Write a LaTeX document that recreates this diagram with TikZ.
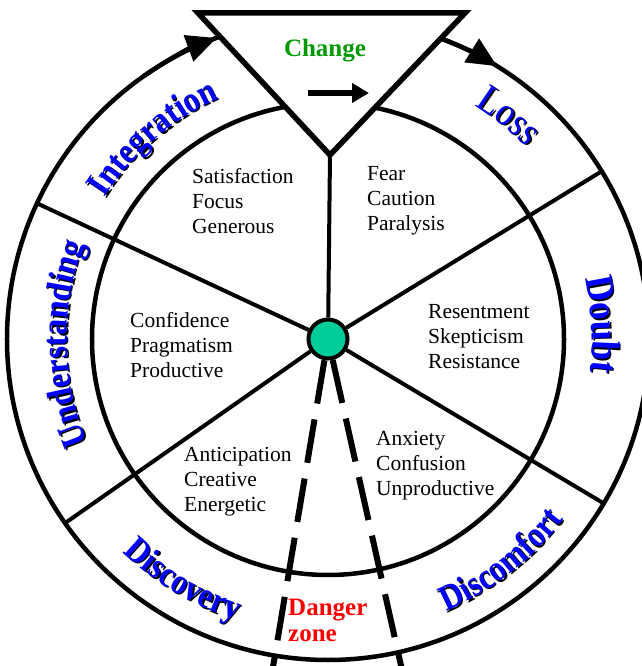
\documentclass[tikz,border=0pt]{standalone}
\usepackage{fontspec}
\setmainfont{Liberation Serif}
\newfontfamily\ringfam{Liberation Serif}[FakeStretch=0.88]
\usetikzlibrary{arrows.meta,decorations.text}
\definecolor{ringblue}{RGB}{0,0,255}
\definecolor{changegreen}{RGB}{0,153,0}
\definecolor{hubgreen}{RGB}{0,204,153}
\definecolor{dangerred}{RGB}{255,0,0}

% #1 start angle, #2 end angle, #3 radius, #4 font, #5 text
\newcommand{\ringlabel}[5]{%
  \path[decorate,decoration={text along path,text align=center,text color=black,
      text={|#4|#5}}] ([shift={(1.5pt,-1.5pt)}]#1:#3pt) arc[start angle=#1,end angle=#2,radius=#3pt];
  \path[decorate,decoration={text along path,text align=center,text color=ringblue,
      text={|#4|#5}}] (#1:#3pt) arc[start angle=#1,end angle=#2,radius=#3pt];
}
\newcommand{\ringfont}{\ringfam\bfseries\fontsize{36}{36}\selectfont}

\begin{document}
\begin{tikzpicture}[x=1pt,y=1pt,
    ring/.style={line width=4.5pt},
    spoke/.style={line width=4pt},
    dangerline/.style={line width=6pt,dash pattern=on 44pt off 16pt},
    mood/.style={inner sep=0pt,align=left,anchor=west,font=\fontsize{21.5}{25}\selectfont},
    bighead/.style={-{Triangle[length=30pt,width=27pt]}}]
  \useasboundingbox (-328,-327) rectangle (313,339);

  % wheel
  \draw[ring] (0,0) circle[radius=321pt];
  \draw[ring] (0,0) circle[radius=236pt];

  \node[circle,draw,line width=4pt,fill=hubgreen,minimum size=39pt,inner sep=0pt] (hub) at (0,0) {};

  \coordinate (top) at (2,184);
  \coordinate (sUL) at (155:321pt);
  \coordinate (sUR) at (31.5:321pt);
  \coordinate (sLR) at (-30.8:321pt);
  \coordinate (sLL) at (215:321pt);
  \coordinate (dL) at (-57,-340);
  \coordinate (dR) at (76,-340);

  \draw[spoke] (hub) -- (top);
  \draw[spoke] (hub) -- (sUL);
  \draw[spoke] (hub) -- (sUR);
  \draw[spoke] (hub) -- (sLR);
  \draw[spoke] (hub) -- (sLL);
  \draw[dangerline] (hub) -- (dL);
  \draw[dangerline] (hub) -- (dR);

  % change triangle
  \draw[line width=5.5pt,fill=white,line join=miter] (-130,326) -- (137,326) -- (top) -- cycle;
  \node[font=\bfseries\fontsize{25}{25}\selectfont,text=changegreen] (change) at (-3,288) {Change};
  \coordinate (arrA) at (-20,246);
  \coordinate (arrB) at (41,246);
  \draw[line width=6pt,-{Triangle[length=17pt,width=19pt]}] (arrA) -- (arrB);

  % arrows on the rim
  \draw[ring,bighead] (125:321pt) arc[start angle=125,end angle=110.3,radius=321pt];
  \draw[ring,bighead] (69:321pt) arc[start angle=69,end angle=58.2,radius=321pt];

  % sector moods
  \node[mood] (sat) at (-136,138) {Satisfaction\\Focus\\Generous};
  \node[mood] (fear) at (39,138) {Fear\\Caution\\Paralysis};
  \node[mood] (res) at (100,2) {Resentment\\Skepticism\\Resistance};
  \node[mood] (conf) at (-198,-6) {Confidence\\Pragmatism\\Productive};
  \node[mood] (anti) at (-144,-143) {Anticipation\\Creative\\Energetic};
  \node[mood] (anx) at (48,-127) {Anxiety\\Confusion\\Unproductive};
  \node[mood,font=\bfseries\fontsize{25}{26}\selectfont,text=dangerred] (danger) at (-40,-281) {Danger\\zone};

  % ring labels
  \ringlabel{171}{91}{264}{\ringfont}{Integration}
  \ringlabel{221}{141}{261}{\ringfont}{Understanding}
  \ringlabel{91}{11}{276}{\ringfam\fontsize{40}{40}\selectfont}{Loss}
  \ringlabel{43}{-37}{264}{\ringfam\bfseries\fontsize{40}{40}\selectfont}{Doubt}
  \ringlabel{-92}{-12}{297}{\ringfont}{Discomfort}
  \ringlabel{199}{279}{296}{\ringfont}{Discovery}
\end{tikzpicture}
\end{document}
